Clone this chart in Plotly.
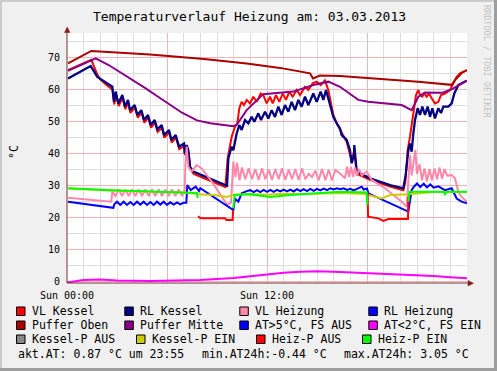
import plotly.graph_objects as go

# ---------------- data (time in hours since Sun 00:00) ----------------
puffer_oben_t = [0.06, 1.46, 4.98, 8.22, 10.78, 12.78, 14.58, 14.76, 15.18, 16.38, 21.08, 23.08, 23.28, 23.70, 24.0]
puffer_oben_v = [68.0, 71.9, 70.8, 69.4, 68.0, 66.6, 64.9, 63.3, 64.2, 64.1, 62.3, 61.3, 62.8, 65.1, 65.9]

puffer_mitte_t = [0.06, 1.72, 2.5, 3.5, 4.7, 5.8, 6.9, 7.8, 8.6, 9.98, 10.18, 10.78, 11.78, 13.58, 14.78, 15.68,
                  16.38, 17.48, 18.08, 20.08, 20.68, 21.08, 21.48, 22.48, 23.08, 23.98]
puffer_mitte_v = [65.7, 69.6, 67.5, 64.3, 60.3, 56.4, 52.6, 50.2, 49.3, 48.4, 48.75, 53.4, 58.4, 59.2, 61.25, 62.3,
                  60.7, 56.6, 56.0, 55.0, 53.4, 57.6, 58.9, 58.8, 59.9, 62.6]

rl_kessel_t = [0.06, 1.42, 1.82, 2.42, 2.72, 2.82, 2.92, 3.08, 3.32, 3.48, 3.66, 3.78, 4.06, 4.22, 4.46, 4.62,
               4.86, 5.02, 5.26, 5.42, 5.68, 5.82, 6.12, 6.26, 6.52, 6.72, 7.02, 7.06, 7.18, 7.28, 7.38, 7.58,
               9.48, 9.60, 9.68, 9.88, 9.98, 10.18, 10.34, 10.48, 10.68, 10.88, 11.08, 11.24, 11.48, 11.64,
               11.88, 12.08, 12.28, 12.48, 12.68, 12.88, 13.08, 13.28, 13.48, 13.68, 13.88, 14.08, 14.28,
               14.48, 14.78, 14.98, 15.22, 15.38, 15.54, 15.68, 15.82, 15.98, 16.18, 16.38, 16.48, 16.78,
               16.98, 17.08, 17.22, 17.24, 17.38, 18.18, 19.38, 20.18, 20.32, 20.44, 20.48, 20.58, 20.68,
               20.78, 20.88, 21.04, 21.18, 21.32, 21.48, 21.64, 21.78, 21.92, 22.08, 22.28, 22.44, 22.58,
               22.88, 23.08, 23.24, 23.48, 23.78, 23.98]
rl_kessel_v = [63.3, 67.2, 63.8, 61.8, 60.7, 56.0, 59.2, 55.5, 58.1, 54.5, 56.6, 53.4, 55.0, 51.9, 53.4, 50.3,
               51.9, 48.75, 50.3, 47.4, 48.75, 45.6, 47.2, 44.1, 45.6, 42.0, 43.0, 39.9, 42.5, 40.9, 35.7, 34.2,
               30.0, 29.8, 38.3, 42.0, 40.9, 46.1, 48.75, 47.2, 50.3, 49.3, 51.3, 49.8, 52.4, 50.3,
               52.9, 50.8, 53.4, 51.3, 54.5, 51.9, 55.0, 52.9, 56.0, 53.4, 56.6, 54.5, 57.6,
               55.0, 58.6, 56.0, 59.2, 56.6, 59.7, 57.1, 54.5, 51.3, 49.3, 47.7, 45.6, 44.1,
               40.9, 36.8, 39.4, 42.5, 34.2, 32.1, 30.0, 29.0, 33.1, 39.4, 40.9, 43.0, 40.4,
               46.1, 50.3, 54.0, 51.9, 54.5, 51.9, 54.5, 51.3, 54.0, 50.8, 54.0, 52.5, 54.5,
               54.5, 55.5, 58.6, 61.25, 62.0, 62.6]

vl_kessel_t = [0.06, 1.46, 1.82, 2.0, 2.42, 2.72, 2.84, 2.94, 3.1, 3.34, 3.5, 3.68, 3.8, 4.08, 4.24, 4.48,
               4.64, 4.88, 5.04, 5.28, 5.44, 5.7, 5.84, 6.14, 6.28, 6.54, 6.74, 7.04, 7.08, 7.2, 7.3, 7.4,
               7.6, 9.5, 9.64, 9.88, 10.08, 10.22, 10.34, 10.48, 10.62, 10.78, 10.98, 11.18, 11.38, 11.62,
               11.78, 11.98, 12.18, 12.34, 12.54, 12.74, 12.94, 13.14, 13.34, 13.54, 13.78, 13.98, 14.28,
               14.48, 14.74, 14.98, 15.22, 15.48, 15.68, 15.82, 15.98, 16.18, 16.38, 16.78, 17.08, 17.24,
               17.38, 18.18, 19.38, 20.18, 20.3, 20.44, 20.58, 20.72, 20.84, 20.94, 21.08, 21.18, 21.32,
               21.44, 21.58, 21.72, 21.88, 22.08, 22.28, 22.44, 22.68, 22.98, 23.18, 23.38, 23.58, 23.78, 23.98]
vl_kessel_v = [65.9, 69.1, 64.5, 63.0, 61.0, 59.9, 55.2, 58.4, 54.7, 57.3, 53.7, 55.8, 52.6, 54.2, 51.1, 52.6,
               49.5, 51.1, 47.9, 49.5, 46.6, 47.9, 44.8, 46.4, 43.3, 44.8, 41.2, 42.2, 39.3, 41.5, 40.0, 34.9,
               33.5, 29.4, 38.3, 45.1, 48.2, 49.3, 54.0, 56.0, 55.0, 56.6, 55.5, 57.6, 56.0, 58.6,
               58.1, 55.5, 57.6, 55.5, 58.1, 56.0, 58.6, 56.6, 59.2, 57.6, 59.7, 58.1, 60.7,
               59.7, 61.8, 62.3, 61.25, 62.7, 59.7, 55.5, 51.9, 49.3, 47.2, 43.5, 37.5, 41.0,
               33.5, 31.6, 29.5, 28.4, 31.0, 40.9, 45.1, 50.3, 54.5, 58.1, 59.7, 58.1, 57.6,
               58.6, 57.6, 58.6, 57.1, 55.5, 56.0, 58.1, 58.6, 59.7, 61.8, 63.8, 64.9, 65.4, 65.9]

vl_heizung_t = [0.06, 2.66, 2.72, 2.9, 3.1, 3.3, 3.5, 3.7, 3.9, 4.1, 4.3, 4.5, 4.7, 4.9, 5.1, 5.3, 5.5, 5.7,
                5.9, 6.1, 6.3, 6.5, 6.7, 6.9, 7.06, 7.1, 7.18, 7.28, 7.48, 7.78, 8.08, 8.7, 9.2, 9.62, 9.84,
                9.98, 10.1, 10.2, 10.35, 10.5, 10.7, 10.9, 11.1, 11.3, 11.5, 11.7, 11.9, 12.1, 12.3, 12.5,
                12.7, 12.9, 13.1, 13.3, 13.5, 13.7, 13.9, 14.1, 14.3, 14.5, 14.7, 14.9, 15.1, 15.3, 15.5,
                15.7, 15.9, 16.1, 16.38, 16.68, 16.8, 16.92, 17.04, 17.16, 17.28, 17.4, 17.52, 17.7, 17.98,
                18.28, 19.08, 20.08, 20.38, 20.58, 20.68, 20.9, 21.0, 21.15, 21.3, 21.45, 21.6, 21.75, 21.9,
                22.05, 22.2, 22.35, 22.5, 22.65, 22.8, 23.08, 23.28, 23.48, 23.68, 23.98]
vl_heizung_v = [26.0, 24.8, 28.0, 26.6, 28.6, 26.6, 28.6, 26.6, 28.6, 26.6, 28.6, 26.6, 28.6, 26.6, 28.6, 26.6, 28.6, 26.6,
                28.6, 26.6, 28.6, 26.6, 28.6, 26.7, 28.0, 36.3, 42.0, 35.7, 34.2, 36.25, 35.2, 31.0, 27.0, 23.8, 24.5,
                37.3, 32.5, 37.0, 31.5, 35.5, 31.8, 35.2, 31.8, 35.0, 31.6, 35.2, 31.8, 34.8, 31.6, 35.0,
                31.8, 35.2, 31.6, 34.8, 31.8, 35.0, 31.6, 35.2, 31.8, 33.5, 32.5, 34.5, 31.5, 35.0, 31.5,
                34.8, 31.4, 34.7, 33.6, 32.1, 35.7, 32.6, 35.7, 32.6, 35.5, 32.8, 35.0, 33.0, 34.2,
                31.6, 29.0, 24.8, 23.2, 39.4, 33.0, 41.0, 33.5, 36.5, 31.5, 35.2, 31.2, 35.0, 31.5,
                35.2, 31.8, 35.5, 32.0, 35.0, 33.0, 33.1, 32.1, 27.9, 26.3, 24.8]

rl_heizung_t = [0.06, 2.78, 2.84, 3.0, 3.2, 3.4, 3.6, 3.8, 4.0, 4.2, 4.4, 4.6, 4.8, 5.0, 5.2, 5.4, 5.6, 5.8,
                6.0, 6.2, 6.4, 6.6, 6.8, 7.0, 7.16, 7.22, 7.42, 7.72, 7.92, 8.0, 9.98, 10.08, 10.28, 10.48,
                10.78, 11.0, 11.2, 11.4, 11.6, 11.8, 12.0, 12.2, 12.4, 12.6, 12.8, 13.0, 13.2, 13.4, 13.6,
                13.8, 14.0, 14.2, 14.4, 14.6, 14.8, 15.0, 15.2, 15.4, 15.6, 15.8, 16.0, 16.2, 16.4, 16.6,
                16.8, 17.0, 17.2, 17.4, 17.68, 17.8, 18.0, 18.08, 20.48, 20.68, 20.8, 21.0, 21.2, 21.4,
                21.6, 21.8, 22.0, 22.28, 22.68, 23.08, 23.38, 23.68, 24.0]
rl_heizung_v = [24.8, 22.9, 24.0, 24.8, 23.8, 24.8, 23.8, 24.7, 23.8, 24.8, 23.9, 24.8, 23.8, 24.7, 23.8, 24.8, 23.9, 24.8,
                23.8, 24.6, 23.9, 24.6, 24.0, 24.5, 24.5, 30.0, 28.4, 29.5, 28.1, 29.0, 22.2, 25.8, 24.8, 27.4,
                28.1, 28.4, 27.8, 28.4, 27.8, 28.5, 27.9, 28.5, 27.9, 28.5, 28.0, 28.6, 28.0, 28.6, 28.0,
                28.7, 28.1, 28.7, 28.1, 28.8, 28.2, 28.8, 28.3, 28.9, 28.4, 29.0, 28.6, 29.0, 28.7, 29.0,
                28.5, 28.8, 28.3, 28.8, 29.5, 28.6, 28.9, 27.4, 21.7, 28.4, 29.4, 30.5, 29.4, 30.4,
                29.3, 30.2, 29.2, 29.6, 28.4, 29.0, 25.8, 24.8, 24.3]

heiz_p_aus_t = [7.88, 7.94, 8.1, 9.48, 9.58, 9.94, 9.96, None, 18.04, 18.06, 18.68, 18.98, 19.28, 20.46, 20.48]
heiz_p_aus_v = [20.3, 19.8, 19.6, 19.6, 19.1, 19.1, 22.2, None, 27.4, 20.1, 19.6, 18.8, 19.4, 19.4, 26.3]

heiz_p_ein_t = [0.06, 2.66, 7.4, 7.8, 7.84, None, 9.98, 10.06, 10.98, 12.18, 13.38, 16.38, 17.98, 18.02, None,
                20.5, 20.54, 22.58, 22.68, 22.8, 24.0]
heiz_p_ein_v = [29.0, 28.4, 27.6, 27.5, 26.0, None, 22.7, 26.9, 27.1, 26.3, 26.9, 27.9, 27.7, 23.75, None,
                24.8, 27.9, 27.9, 27.1, 27.9, 27.9]

kessel_p_ein_t = [0.06, 2.66, 7.4, 7.9, 8.8, 9.6, 9.98, 11.0, 12.0, 13.0, 14.0, 16.38, 18.0, 18.1, 18.88, 19.38,
                  20.5, 22.0, 24.0]
kessel_p_ein_v = [28.9, 28.3, 27.5, 27.1, 26.9, 26.3, 27.0, 27.2, 27.0, 27.3, 27.2, 27.5, 27.2, 26.9, 25.8, 26.9,
                  27.1, 27.8, 27.8]

at_t = [0.0, 1.0, 2.0, 3.0, 5.0, 7.0, 8.0, 10.0, 11.0, 12.0, 13.0, 14.0, 15.0, 16.0, 17.0, 18.0, 20.0, 22.0, 23.0, 24.0]
at_v = [-0.44, 0.3, 0.5, 0.2, 0.0, 0.2, 0.3, 1.0, 1.6, 2.2, 2.6, 2.9, 3.05, 2.9, 2.7, 2.4, 1.9, 1.6, 1.2, 0.87]

x_tick_vals = [0, 6, 12, 18]
x_tick_text = ["Sun 00:00", "", "Sun 12:00", ""]
y_tick_vals = [0, 10, 20, 30, 40, 50, 60, 70]

legend_rows = [
    [("VL Kessel", "#FF0000"), ("RL Kessel", "#000080"), ("VL Heizung", "#FF88AA"), ("RL Heizung", "#0000FF")],
    [("Puffer Oben", "#AA0000"), ("Puffer Mitte", "#880088"), ("AT>5°C, FS AUS", "#0000FF"), ("AT<2°C, FS EIN", "#FF00FF")],
    [("Kessel-P AUS", "#888888"), ("Kessel-P EIN", "#CCCC00"), ("Heiz-P AUS", "#FF0000"), ("Heiz-P EIN", "#00FF00")],
]
stats_texts = ["akt.AT: 0.87 °C um 23:55", "min.AT24h:-0.44 °C", "max.AT24h: 3.05 °C"]

# ---------------- layout geometry ----------------
W, H = 497, 371
L, R, T, B = 67, 467, 33, 283
FONT = "DejaVu Sans Mono, monospace"


def px(x):
    return (x - L) / (R - L)


def py(y):
    return (B - y) / (B - T)


fig = go.Figure()


def add_line(t, v, color, width=2):
    fig.add_trace(go.Scatter(x=t, y=v, mode="lines", line=dict(color=color, width=width),
                             connectgaps=False, hoverinfo="skip", showlegend=False))


add_line(vl_kessel_t, vl_kessel_v, "#FF0000", 2)
add_line(rl_kessel_t, rl_kessel_v, "#000080", 2.3)
add_line(vl_heizung_t, vl_heizung_v, "#FF88AA", 2)
add_line(rl_heizung_t, rl_heizung_v, "#0000FF", 2)
add_line(puffer_oben_t, puffer_oben_v, "#AA0000", 2)
add_line(puffer_mitte_t, puffer_mitte_v, "#880088", 2)
add_line(at_t, at_v, "#FF00FF", 2)
add_line(kessel_p_ein_t, kessel_p_ein_v, "#CCCC00", 2)
add_line(heiz_p_aus_t, heiz_p_aus_v, "#FF0000", 2)
add_line(heiz_p_ein_t, heiz_p_ein_v, "#00FF00", 2)

shapes = []
annotations = []
AXIS_COL = "#7A2E2E"
ARROW_COL = "#8B1A1A"

# axis extensions and arrows
shapes.append(dict(type="line", xref="paper", yref="paper", x0=px(67), x1=px(67), y0=py(283), y1=py(29),
                   line=dict(color=AXIS_COL, width=1)))
shapes.append(dict(type="path", xref="paper", yref="paper",
                   path=f"M {px(64.5)} {py(32.5)} L {px(70)} {py(32.5)} L {px(67.2)} {py(27)} Z",
                   fillcolor=ARROW_COL, line=dict(color=ARROW_COL, width=0.5)))
shapes.append(dict(type="line", xref="paper", yref="paper", x0=px(67), x1=px(470), y0=py(283), y1=py(283),
                   line=dict(color=AXIS_COL, width=1)))
shapes.append(dict(type="path", xref="paper", yref="paper",
                   path=f"M {px(468)} {py(280.5)} L {px(468)} {py(286)} L {px(473.5)} {py(283.2)} Z",
                   fillcolor=ARROW_COL, line=dict(color=ARROW_COL, width=0.5)))

# 3D frame of the image
shapes.append(dict(type="line", xref="paper", yref="paper", x0=px(0), x1=px(W), y0=py(1), y1=py(1),
                   line=dict(color="#CBCBCB", width=2)))
shapes.append(dict(type="line", xref="paper", yref="paper", x0=px(1), x1=px(1), y0=py(0), y1=py(H),
                   line=dict(color="#CBCBCB", width=2)))
shapes.append(dict(type="line", xref="paper", yref="paper", x0=px(W - 1.5), x1=px(W - 1.5), y0=py(0), y1=py(H),
                   line=dict(color="#9E9E9E", width=3)))
shapes.append(dict(type="line", xref="paper", yref="paper", x0=px(0), x1=px(W), y0=py(H - 1.5), y1=py(H - 1.5),
                   line=dict(color="#9E9E9E", width=3)))

# legend
row_y = [311, 325, 339]
col_x = [[30, 138.3, 253.3, 382.3], [30, 138.3, 253.3, 382.3], [30, 150, 270, 376]]
for r, row in enumerate(legend_rows):
    for c, (label, color) in enumerate(row):
        tx = col_x[r][c]
        cy = row_y[r]
        shapes.append(dict(type="rect", xref="paper", yref="paper",
                           x0=px(tx - 13.5), x1=px(tx - 5), y0=py(cy + 4.5), y1=py(cy - 4),
                           fillcolor=color, line=dict(color="#000000", width=1)))
        annotations.append(dict(text=label, xref="paper", yref="paper", x=px(tx), y=py(cy),
                                xanchor="left", yanchor="middle", showarrow=False,
                                font=dict(family=FONT, size=11.5, color="#000000")))
for tx, txt in zip([16, 200, 342.3], stats_texts):
    annotations.append(dict(text=txt, xref="paper", yref="paper", x=px(tx), y=py(353.5),
                            xanchor="left", yanchor="middle", showarrow=False,
                            font=dict(family=FONT, size=11.5, color="#000000")))

# title, unit label, watermark
annotations.append(dict(text="Temperaturverlauf Heizung am: 03.03.2013", xref="paper", yref="paper",
                        x=px(249), y=py(16.5), xanchor="center", yanchor="middle", showarrow=False,
                        font=dict(family=FONT, size=13, color="#000000")))
annotations.append(dict(text="°C", xref="paper", yref="paper", x=px(14), y=py(152), textangle=-90,
                        xanchor="center", yanchor="middle", showarrow=False,
                        font=dict(family=FONT, size=11.5, color="#000000")))
annotations.append(dict(text="RRDTOOL / TOBI OETIKER", xref="paper", yref="paper", x=px(487), y=py(61),
                        textangle=90, xanchor="center", yanchor="middle", showarrow=False,
                        font=dict(family=FONT, size=8.5, color="#C4C4C4")))

fig.update_layout(
    width=W, height=H,
    margin=dict(l=L, r=W - R, t=T, b=H - B, pad=0),
    paper_bgcolor="#F0F0F0",
    plot_bgcolor="#FFFFFF",
    showlegend=False,
    shapes=shapes,
    annotations=annotations,
    xaxis=dict(range=[0, 24], tickmode="array", tickvals=x_tick_vals, ticktext=x_tick_text,
               showgrid=True, gridcolor="#F1B5B5", gridwidth=1, zeroline=False, showline=False,
               ticks="outside", ticklen=3, tickcolor="#F0F0F0", automargin=False,
               tickfont=dict(family=FONT, size=10, color="#000000"),
               minor=dict(tick0=0, dtick=1, showgrid=True, gridcolor="#DEDEDE", gridwidth=1, ticks="")),
    yaxis=dict(range=[-0.6, 77.5], tickmode="array", tickvals=y_tick_vals,
               showgrid=True, gridcolor="#F1B5B5", gridwidth=1, zeroline=False, showline=False,
               ticks="outside", ticklen=4, tickcolor="#F0F0F0", automargin=False,
               tickfont=dict(family=FONT, size=10, color="#000000"),
               minor=dict(tick0=0, dtick=5, showgrid=True, gridcolor="#DEDEDE", gridwidth=1, ticks="")),
)

fig.write_html("out.html", config={"displayModeBar": False},
               post_script="document.body.style.margin='0';document.body.style.padding='0';"
                           "document.documentElement.style.overflow='hidden';")
